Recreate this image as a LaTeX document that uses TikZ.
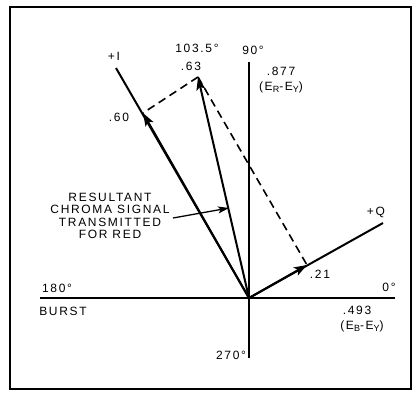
\documentclass[tikz,border=0pt]{standalone}
\usepackage{fontspec}
\setmainfont{Liberation Sans}
\usetikzlibrary{arrows.meta}
\newcommand{\lowsub}[1]{\raisebox{-2.5pt}{\fontsize{9}{9}\selectfont #1}}
\begin{document}
\begin{tikzpicture}[x=1pt,y=-1pt,
  lbl/.style={inner sep=0pt,font=\fontsize{12}{13.5}\selectfont\addfontfeature{LetterSpace=14}},
  axis/.style={line width=2pt},
  vec/.style={line width=2pt},
  tipped/.style={-{Stealth[length=13pt,width=9pt,inset=3pt]}},
  dashline/.style={line width=1.6pt,dash pattern=on 8pt off 5pt}]
\useasboundingbox (0,0) rectangle (420,392);
\draw[line width=2.4pt] (10,7) rectangle (411,389);
% points
\coordinate (O) at (249,298);
\coordinate (L) at (40,298);
\coordinate (Rt) at (395,298);
\coordinate (T) at (249,62);
\coordinate (B) at (249,358);
\coordinate (Iend) at (116,68);
\coordinate (Ip) at (143,113);
\coordinate (Qend) at (383,223);
\coordinate (Qp) at (307,265);
\coordinate (Rv) at (198,77);
\coordinate (Lead) at (173,218);
\coordinate (Hit) at (229,208);
% axes
\draw[axis] (L) -- (Rt);
\draw[axis] (T) -- (B);
% vectors
\draw[vec] (O) -- (Iend);
\draw[vec,tipped] (O) -- (Ip);
\draw[vec] (O) -- (Qend);
\draw[vec,tipped] (O) -- (Qp);
\draw[vec,tipped] (O) -- (Rv);
% dashed
\draw[dashline] (Rv) -- (Ip);
\draw[dashline] (Rv) -- (Qp);
% leader
\draw[line width=1.3pt,-{Stealth[length=11pt,width=7pt,inset=2.5pt]}] (Lead) -- (Hit);
% labels
\node[lbl] (lI) at (114,56) {+I};
\node[lbl] (lang) at (197,48) {103.5°};
\node[lbl] (l63) at (191,66) {.63};
\node[lbl] (l90) at (253,50) {90°};
\node[lbl] (l877) at (281,71) {.877};
\node[lbl] (lER) at (281,87) {(E\lowsub{R}-E\lowsub{Y})};
\node[lbl] (l60) at (119,117) {.60};
\node[lbl,align=center] (lres) at (110,216) {RESULTANT\\[-1pt]CHROMA SIGNAL\\[-1pt]TRANSMITTED\\[-1pt]FOR RED};
\node[lbl] (lQ) at (376,212) {+Q};
\node[lbl] (l21) at (320,274) {.21};
\node[lbl] (l180) at (57,288) {180°};
\node[lbl] (lburst) at (63,311) {BURST};
\node[lbl] (l0) at (389,287) {0°};
\node[lbl] (l493) at (357,310) {.493};
\node[lbl] (lEB) at (362,326) {(E\lowsub{B}-E\lowsub{Y})};
\node[lbl] (l270) at (231,355) {270°};
\end{tikzpicture}
\end{document}
